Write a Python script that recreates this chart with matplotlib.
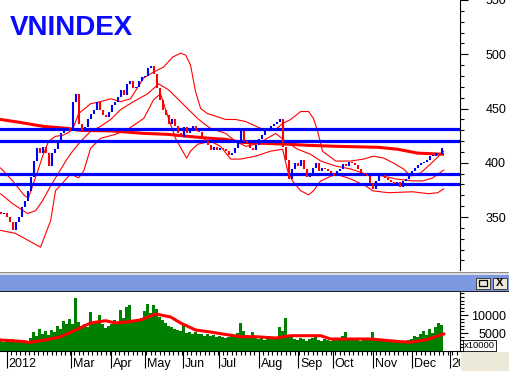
import matplotlib
matplotlib.use('Agg')
import matplotlib.pyplot as plt
from matplotlib.ticker import MultipleLocator
from matplotlib.patches import Rectangle
import matplotlib.transforms as mtransforms
import numpy as np

plt.rcParams['font.family'] = ['Liberation Sans', 'DejaVu Sans']

# ---- data (one bar ~ 1.7 trading days) ----
first_open = 355
closes = [353, 354, 350, 345, 338, 345, 350, 359, 365, 374,
          387, 402, 414, 409, 415, 409, 397, 409, 413, 420,
          427, 431, 432, 429, 456, 463, 436, 429, 433, 440,
          445, 449, 456, 449, 444, 442, 447, 453, 456, 461,
          467, 462, 473, 475, 469, 470, 475, 479, 480, 487,
          489, 482, 469, 458, 449, 444, 436, 440, 434, 427,
          424, 433, 427, 431, 434, 429, 428, 423, 420, 416,
          412, 415, 412, 414, 413, 411, 407, 409, 414, 420,
          429, 420, 417, 414, 412, 416, 422, 426, 429, 432,
          434, 436, 438, 440, 415, 403, 385, 394, 400, 397,
          403, 394, 387, 391, 395, 400, 392, 395, 394, 392,
          391, 388, 392, 394, 399, 397, 401, 400, 398, 394,
          391, 390, 388, 381, 376, 383, 388, 389, 386, 384,
          382, 380, 382, 378, 383, 385, 388, 392, 395, 398,
          400, 401, 403, 406, 406, 409, 408, 414]

volumes = [3000, 2600, 3100, 2800, 3300, 2900, 2700, 3000, 2600, 2900,
           3500, 5200, 4300, 6100, 4800, 5600, 4500, 5900, 5200, 7000,
           6200, 8300, 7400, 8800, 7500, 14700, 8200, 7000, 7600, 6800,
           10800, 7900, 8300, 10000, 7400, 6400, 6900, 7600, 8600, 8000,
           11400, 9100, 12200, 12800, 8700, 8000, 8600, 9300, 11000, 13200,
           10500, 12800, 11800, 9400, 8600, 7800, 7000, 6600, 6200, 5700,
           5600, 7200, 5000, 5400, 4800, 5200, 4700, 4600, 4300, 4800,
           4200, 4400, 3800, 4200, 4000, 3600, 3900, 4500, 4200, 5000,
           7800, 5600, 4400, 3600, 5300, 3800, 3300, 3600, 3000, 3500,
           3900, 3300, 3700, 6700, 5500, 9200, 4400, 3800, 3400, 3000,
           3600, 3200, 2800, 3300, 3500, 3900, 3100, 2900, 3400, 3000,
           2700, 3200, 3700, 3500, 4100, 5300, 3600, 3400, 3000, 3300,
           2800, 3100, 3000, 3500, 5300, 3700, 2900, 2700, 2900, 2500,
           2800, 2600, 2700, 2400, 2900, 2600, 3000, 3400, 4300, 3800,
           4700, 5600, 4400, 6200, 5000, 6700, 7800, 7200]

# bollinger bands (bar index, value)
upper_x = [0, 4, 8, 9.3, 11, 12.7, 14, 16, 18.3, 20.7, 22.7, 24, 26, 30, 33.3,
           36.7, 40, 43.3, 47.7, 51, 54.3, 57.3, 60, 61.7, 63.3, 65, 66.7, 69,
           75, 78.3, 81.7, 86.7, 91.7, 94, 96.7, 100, 102.7, 104.3, 105.7,
           107.3, 111.7, 116.7, 121, 124.3, 127.7, 131, 134.3, 136.7, 140,
           143.3, 147.7]
upper = [395.2, 383.3, 369.6, 367.8, 381.5, 395, 406.1, 419.8, 424.4, 425.3,
         428.0, 430.7, 445.3, 454.4, 456.3, 459.0, 456.3, 459.0, 478.2, 483.6,
         488.2, 497.3, 501.0, 499.2, 490.1, 465.4, 449.9, 445.3, 439.9, 439.9,
         438.0, 431.7, 430.7, 436.2, 439.9, 447.2, 447.2, 440.8, 428.9, 410.7,
         401.6, 401.6, 403.4, 406.1, 404.3, 399.7, 394.3, 387.9, 390.6, 398.8,
         410.7]
middle_x = [0, 4, 9, 11.7, 14, 16.7, 19.3, 21.7, 24, 26.7, 30, 33.3, 36.7, 40,
            44.3, 49, 52.7, 56, 60, 63.3, 65.7, 67.7, 70, 75, 78.3, 81.7, 85,
            88.3, 91.7, 95, 99, 103.3, 106.7, 111.7, 116.7, 121.7, 127.3,
            131.7, 137.3, 140.7, 144, 147.7]
middle = [371.4, 362.3, 353.2, 355.9, 365.1, 378.7, 390.6, 401.6, 410.7, 419.8,
          428.9, 433.5, 439.9, 449.0, 456.3, 463.6, 472.7, 467.2, 456.3, 447.2,
          440.8, 436.2, 431.7, 427.1, 419.8, 415.2, 417.1, 421.6, 427.1, 419.8,
          412.5, 407.9, 401.6, 397.0, 394.3, 389.7, 387.9, 385.1, 383.3, 383.3,
          386.0, 393.3]
lower_x = [0, 5, 13.3, 16.7, 18.3, 20.7, 23.3, 26, 27.7, 30, 33.3, 38.3, 42.3,
           47.7, 51, 53.3, 56, 58.3, 60.7, 62, 63.3, 65.7, 70, 73.3, 76.7, 80,
           85, 90, 94, 95.7, 97.3, 100, 102.7, 104.3, 106.7, 111.7, 116.7,
           121.7, 124, 129.3, 137.3, 142.7, 145.7, 147.7]
lower = [337.7, 334.9, 322.2, 346.8, 374.2, 381.5, 389.7, 386.1, 392.4, 413.4,
         422.5, 426.2, 430.7, 440.8, 458.1, 463.6, 440.8, 422.5, 410.7, 404.3,
         410.7, 417.1, 419.8, 415.2, 403.4, 403.4, 406.1, 410.7, 412.5, 392.4,
         383.3, 374.2, 370.5, 374.2, 383.3, 389.7, 385.1, 378.7, 374.2, 372.4,
         373.3, 371.5, 372.4, 376.0]

# long moving average (thick red)
ma_x = [0, 6.7, 14.3, 22.3, 26.7, 36.7, 47.7, 55.7, 62.3, 70, 75, 80, 86.7,
        95.7, 102.3, 111.7, 125.7, 132.3, 139, 147.3]
ma = [439.9, 437.1, 433.5, 431.7, 429.8, 429.4, 427.1, 426.2, 424.4, 422.5,
      421.6, 418.9, 418.0, 417.1, 416.1, 415.2, 414.3, 412.5, 408.9, 407.9]

# volume moving average
vma_x = [0, 8.3, 9.3, 15, 20, 25, 30, 35, 38.3, 41.7, 46.7, 51.7, 56.7, 60,
         65, 70, 75, 80, 85, 91.7, 96.7, 106.7, 110, 123.3, 133.3, 136.7,
         141.7, 145, 147.7]
vma = [3060, 2590, 2360, 3060, 3980, 5840, 7780, 8420, 7780, 8060, 8620,
       10290, 9450, 7780, 5840, 5280, 4590, 3980, 3980, 3610, 4250, 4250,
       3340, 3340, 2590, 2450, 3060, 3980, 4730]

levels = [430.7, 420.3, 390.0, 380.8]

month_pos = [2, 23.6, 36.7, 48, 60.7, 72.7, 86, 99.3, 110.7, 124, 137, 149.7]
month_lbl = ['2012', 'Mar', 'Apr', 'May', 'Jun', 'Jul', 'Aug', 'Sep', 'Oct',
             'Nov', 'Dec', '2013']

# ---- figure ----
W, H = 510, 371
fig = plt.figure(figsize=(W / 100, H / 100), dpi=100)
fig.patch.set_facecolor('white')

def fx(px):
    return px / W

def fy(py):
    return 1 - py / H

ax = fig.add_axes([0, fy(270), fx(460), 270 / H])
axv = fig.add_axes([0, fy(351), fx(460), (351 - 292) / H])

xl = (-0.2, 460 / 3 - 0.2)

# price pane
x = np.arange(len(closes))
opens = np.array([first_open] + closes[:-1])
cl = np.array(closes)
cols = np.where(cl >= opens, '#0000ff', '#ff0000')
lo = np.minimum(opens, cl)
hi = np.maximum(opens, cl)
hi = np.where(hi - lo < 0.8, lo + 0.8, hi)

for lv in levels:
    ax.axhline(lv, color='#0000ff', linewidth=2.3, zorder=3)
ax.plot(ma_x, ma, color='#ff0000', linewidth=2.2, zorder=2)
ax.plot(upper_x, upper, color='#ff0000', linewidth=0.8, zorder=2)
ax.plot(middle_x, middle, color='#ff0000', linewidth=0.8, zorder=2)
ax.plot(lower_x, lower, color='#ff0000', linewidth=0.8, zorder=2)
ax.vlines(x, lo, hi, colors=cols, linewidth=1.5, zorder=4)

ax.set_xlim(*xl)
ax.set_ylim(301.2, 547.5)
ax.set_xticks([])
for s in ['left', 'top', 'bottom']:
    ax.spines[s].set_visible(False)
ax.spines['right'].set_linewidth(0.8)
ax.yaxis.tick_right()
ax.set_yticks([350, 400, 450, 500, 550])
ax.yaxis.set_minor_locator(MultipleLocator(10))
ax.tick_params(axis='y', which='major', length=5.8, width=0.8, pad=27.4,
               labelsize=9, direction='out')
ax.tick_params(axis='y', which='minor', length=2.9, width=0.8, direction='out')
plt.setp(ax.get_yticklabels(), ha='right')

fig.text(fx(10), fy(15), 'VNINDEX', color='#0a0aff', fontsize=20,
         fontweight='bold', va='top', ha='left')

# volume pane
axv.bar(x, volumes, width=1.0, color='#008000', linewidth=0, zorder=2)
axv.plot(vma_x, vma, color='#ff0000', linewidth=2.2, zorder=3)
axv.set_xlim(*xl)
axv.set_ylim(0, 16400)
for s in ['left', 'top']:
    axv.spines[s].set_visible(False)
axv.spines['right'].set_linewidth(0.8)
axv.spines['bottom'].set_linewidth(0.8)
axv.yaxis.tick_right()
axv.set_yticks([5000, 10000])
axv.yaxis.set_minor_locator(MultipleLocator(1000))
axv.tick_params(axis='y', which='major', length=5.8, width=0.8, pad=27.4,
                labelsize=9, direction='out')
axv.tick_params(axis='y', which='minor', length=2.9, width=0.8, direction='out')
plt.setp(axv.get_yticklabels(), ha='right')

axv.set_xticks(month_pos)
axv.set_xticklabels([''] * len(month_pos))
axv.set_xticks(np.arange(3.5, 153, 1.5), minor=True)
axv.tick_params(axis='x', which='major', length=12.2, width=0.8, direction='out')
axv.tick_params(axis='x', which='minor', length=2.9, width=0.8, direction='out')

trans = mtransforms.blended_transform_factory(axv.transData, axv.transAxes)
clip = mtransforms.TransformedBbox(
    mtransforms.Bbox([[0, 0], [fx(460), fy(351)]]), fig.transFigure)
for p, lbl in zip(month_pos, month_lbl):
    t = axv.text(p + 0.7, -13 / 59, lbl, transform=trans, fontsize=9,
                 ha='left', va='center', clip_on=False)
    t.set_clip_box(clip)
    t.set_clip_on(True)

# pane separator / window chrome
fig.add_artist(Rectangle((0, fy(272.5)), 1, 1 / H, transform=fig.transFigure,
                         color='#909090', lw=0))
fig.add_artist(Rectangle((0, fy(275)), 1, 2.5 / H, transform=fig.transFigure,
                         color='#dcdcdc', lw=0))
fig.add_artist(Rectangle((0, fy(290.5)), 1, 15.5 / H, transform=fig.transFigure,
                         color='#7b98e0', lw=0))
fig.add_artist(Rectangle((0, fy(292)), 1, 1.5 / H, transform=fig.transFigure,
                         color='#202020', lw=0))
for bx in [476, 493]:
    fig.add_artist(Rectangle((fx(bx), fy(288.5)), 14 / W, 11 / H,
                             transform=fig.transFigure, fc='#ece9d8',
                             ec='#404040', lw=0.7))
fig.add_artist(Rectangle((fx(479), fy(286)), 8 / W, 6.5 / H,
                         transform=fig.transFigure, fc='none', ec='black', lw=0.9))
fig.text(fx(500), fy(283), 'X', fontsize=8, fontweight='bold', ha='center',
         va='center')

fig.add_artist(Rectangle((fx(461), 0), 49 / W, 19 / H, transform=fig.transFigure,
                         color='#ece9d8', lw=0))
fig.text(fx(464), fy(345.5), 'x10000', fontsize=6.8, ha='left', va='center',
         bbox=dict(boxstyle='square,pad=0.15', fc='white', ec='black', lw=0.6))

fig.savefig('out.png', dpi=100, facecolor='white')
